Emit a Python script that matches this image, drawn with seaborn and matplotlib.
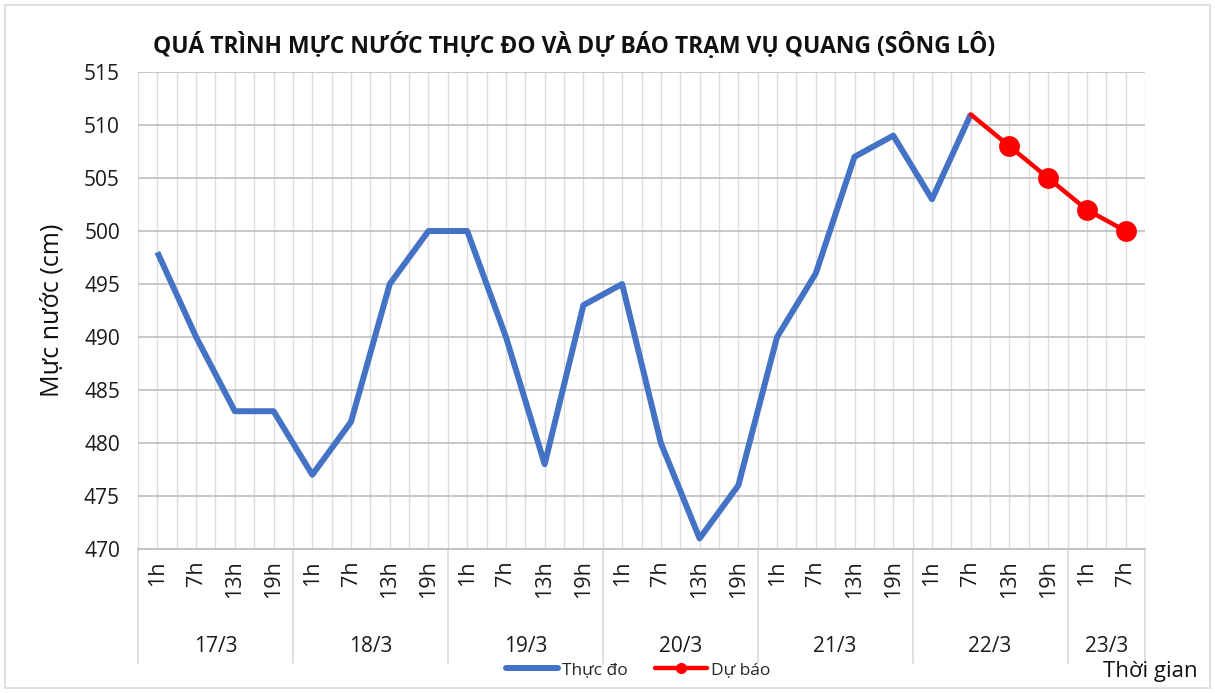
import matplotlib
matplotlib.use("Agg")
import matplotlib.pyplot as plt
import matplotlib.transforms as mtrans
from matplotlib.lines import Line2D
from matplotlib.patches import Rectangle
import seaborn as sns
import pandas as pd
import numpy as np

hours = ["1h", "7h", "13h", "19h",
         "1h", "7h", "13h", "19h",
         "1h", "7h", "13h", "19h",
         "1h", "7h", "13h", "19h",
         "1h", "7h", "13h", "19h",
         "1h", "7h", "13h", "19h",
         "1h", "7h"]
days = ["17/3", "18/3", "19/3", "20/3", "21/3", "22/3", "23/3"]
day_counts = [4, 4, 4, 4, 4, 4, 2]

observed = [498, 490, 483, 483, 477, 482, 495, 500, 500, 490, 478, 493,
            495, 480, 471, 476, 490, 496, 507, 509, 503, 511]
forecast_start = 21
forecast = [511, 508, 505, 502, 500]

title = "QUÁ TRÌNH MỰC NƯỚC THỰC ĐO VÀ DỰ BÁO TRẠM VỤ QUANG (SÔNG LÔ)"
ylabel = "Mực nước (cm)"
xlabel = "Thời gian"
label_obs = "Thực đo"
label_fc = "Dự báo"

sns.set_theme(style="white")
plt.rcParams['font.family'] = ['Open Sans', 'DejaVu Sans']

df_obs = pd.DataFrame({"x": np.arange(len(observed)), "y": observed})
df_fc = pd.DataFrame({"x": np.arange(forecast_start, forecast_start + len(forecast)), "y": forecast})

fig = plt.figure(figsize=(12.15, 6.93), dpi=100)
ax = fig.add_axes([138/1215, 1 - 549/693, (1145 - 138)/1215, (549 - 72)/693])

blue = "#4472C4"
red = "#FF0000"

sns.lineplot(data=df_obs, x="x", y="y", ax=ax, color=blue, linewidth=4.3,
             solid_capstyle="butt", zorder=3)
sns.lineplot(data=df_fc, x="x", y="y", ax=ax, color=red, linewidth=3.2,
             marker="o", markersize=15, markeredgewidth=0, markevery=list(range(1, len(forecast))),
             zorder=4)

n = len(hours)
ax.set_xlim(-0.5, n - 0.5)
ax.set_ylim(470, 515)
ax.set_yticks(np.arange(470, 516, 5))
ax.set_xticks(np.arange(n))
ax.set_xticklabels(hours, rotation=90, fontsize=15.5, color="#1a1a1a")
ax.tick_params(axis="x", length=0, pad=8)
ax.tick_params(axis="y", length=0, pad=13, labelsize=15, labelcolor="#1a1a1a")

# grid
for xv in np.arange(-0.5, n, 0.5):
    ax.axvline(xv, color="#DCDCDC", linewidth=1.0, zorder=1)
for yv in np.arange(470, 516, 5):
    ax.axhline(yv, color="#BFBFBF", linewidth=1.2, zorder=1)

for s in ["top", "right", "left"]:
    ax.spines[s].set_visible(False)
ax.spines["bottom"].set_color("#BFBFBF")
ax.spines["bottom"].set_linewidth(1.2)

ax.set_xlabel("")
ax.set_ylabel(ylabel, fontsize=18, color="#111111", labelpad=14)

# day grouping
trans = mtrans.blended_transform_factory(ax.transData, ax.transAxes)
bottom_sep = -(663 - 549) / 477
start = 0
bounds = [-0.5]
for d, c in zip(days, day_counts):
    center = start + (c - 1) / 2
    ax.text(center, -(646 - 549) / 477, d, transform=trans, ha="center", va="center",
            fontsize=15, color="#1a1a1a")
    start += c
    bounds.append(start - 0.5)
for b in bounds:
    ax.add_line(Line2D([b, b], [0, bottom_sep], transform=trans, color="#D9D9D9",
                       linewidth=1.2, clip_on=False))

fig.text(574/1215, 1 - 46/693, title, ha="center", va="center", fontsize=16.5,
         fontweight="bold", color="#111111")
fig.text(1150/1215, 1 - 671/693, xlabel, ha="center", va="center", fontsize=16, color="#111111")

handles = [Line2D([], [], color=blue, linewidth=4.3),
           Line2D([], [], color=red, linewidth=3.2, marker="o", markersize=7)]
fig.legend(handles, [label_obs, label_fc], loc="center", bbox_to_anchor=(638/1215, 1 - 670/693),
           ncol=2, frameon=False, fontsize=12.5, handlelength=3.0, columnspacing=1.6,
           handletextpad=0.2)

fig.add_artist(Rectangle((5/1215, 5/693), 1205/1215, 683/693, transform=fig.transFigure,
                         fill=False, edgecolor="#D9D9D9", linewidth=1.2))

fig.savefig("out.png", dpi=100)
